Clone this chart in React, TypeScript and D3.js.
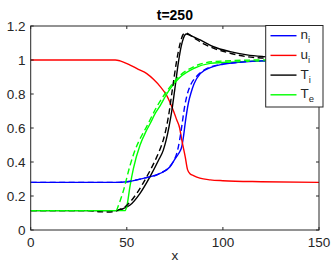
import React, { useEffect, useRef } from 'react';
import * as d3 from 'd3';

const niX = [0, 45, 50, 58.6, 67.3, 72.5, 75.2, 77, 78.6, 79.5, 80.4, 82.1, 83.5, 85, 88.2, 93.4, 100, 110, 121, 150];
const niSolid = [0.28, 0.28, 0.284, 0.304, 0.333, 0.372, 0.42, 0.45, 0.49, 0.55, 0.63, 0.75, 0.81, 0.86, 0.92, 0.955, 0.975, 0.988, 0.995, 1.0];
const niDashX = [0, 45, 50, 58.6, 67.3, 72.5, 74.5, 76, 77.5, 78.6, 80, 81.5, 83.5, 86, 90, 97, 107, 120, 150];
const niDash = [0.28, 0.28, 0.284, 0.304, 0.333, 0.375, 0.41, 0.45, 0.53, 0.61, 0.72, 0.8, 0.86, 0.9, 0.94, 0.97, 0.985, 0.995, 1.0];

const uiX = [0, 44, 46.5, 51.7, 56, 60.4, 64, 67.3, 70.8, 72.5, 74.3, 76, 77.5, 78.6, 80.4, 81.6, 83, 84.7, 88, 93.4, 100, 120, 150];
const uiSolid = [1, 1, 0.995, 0.97, 0.945, 0.92, 0.885, 0.845, 0.79, 0.75, 0.7, 0.647, 0.6, 0.53, 0.43, 0.355, 0.33, 0.32, 0.305, 0.295, 0.29, 0.284, 0.28];

const tiX = [0, 45, 48, 51.7, 56.9, 62.1, 66.5, 69, 70.5, 72, 73.4, 75, 76.9, 78.3, 79.5, 81, 83, 88.2, 95.1, 103.8, 112.5, 121, 135, 150];
const tiSolid = [0.114, 0.114, 0.125, 0.147, 0.216, 0.314, 0.41, 0.47, 0.53, 0.61, 0.7, 0.83, 0.99, 1.08, 1.13, 1.153, 1.145, 1.118, 1.078, 1.049, 1.03, 1.02, 1.012, 1.008];
const tiDashX = [0, 30, 36, 40, 44, 46, 49.1, 55.2, 60.4, 65.6, 67.3, 69, 71.7, 74, 76, 77.8, 79.3, 80.5, 85, 90, 95, 103.8, 112, 120, 150];
const tiDash = [0.114, 0.114, 0.107, 0.106, 0.11, 0.12, 0.137, 0.216, 0.314, 0.43, 0.475, 0.53, 0.67, 0.85, 1.0, 1.1, 1.15, 1.16, 1.13, 1.095, 1.07, 1.04, 1.02, 1.012, 1.005];

const teX = [0, 49, 50, 51.7, 53.4, 56.9, 60, 62.1, 65, 67.3, 70.8, 72.5, 77.8, 84.7, 93.4, 100, 120, 150];
const teSolid = [0.114, 0.114, 0.14, 0.26, 0.36, 0.5, 0.58, 0.625, 0.69, 0.73, 0.8, 0.83, 0.9, 0.95, 0.98, 0.985, 0.995, 1.0];
const teDashX = [0, 44.5, 45.5, 48.2, 51.7, 54.3, 57.5, 60.4, 65.6, 71.7, 77.8, 84.7, 95, 120, 150];
const teDash = [0.114, 0.114, 0.14, 0.23, 0.38, 0.47, 0.55, 0.61, 0.725, 0.83, 0.91, 0.96, 0.99, 1.0, 1.0];

const xTicks = [0, 50, 100, 150];
const yTicks = [0, 0.2, 0.4, 0.6, 0.8, 1, 1.2];
const legendNames = [['n', 'i'], ['u', 'i'], ['T', 'i'], ['T', 'e']];
const legendColors = ['#0000ff', '#ff0000', '#000000', '#00ff00'];

const App: React.FC = () => {
  const svgRef = useRef<SVGSVGElement>(null);

  useEffect(() => {
    if (!svgRef.current) return;
    const width = 334;
    const height = 273;
    const left = 30.7, right = 319, top = 26, bottom = 230;
    const axisColor = '#262626';
    const font = '"Liberation Sans", Arial, Helvetica, sans-serif';

    const svg = d3.select(svgRef.current);
    svg.selectAll('*').remove();
    svg.attr('width', width).attr('height', height).attr('viewBox', [0, 0, width, height]);

    const x = d3.scaleLinear().domain([0, 150]).range([left, right]);
    const y = d3.scaleLinear().domain([0, 1.2]).range([bottom, top]);

    svg.append('rect').attr('width', width).attr('height', height).attr('fill', 'white');

    // curves: solids first, then dashed on top
    const line = d3.line<[number, number]>()
      .x(d => x(d[0]))
      .y(d => y(d[1]))
      .curve(d3.curveMonotoneX);
    const zip = (xs: number[], vs: number[]) => xs.map((v, i) => [v, vs[i]] as [number, number]);

    const curves = [
      { d: zip(niX, niSolid), c: legendColors[0], dash: false },
      { d: zip(uiX, uiSolid), c: legendColors[1], dash: false },
      { d: zip(tiX, tiSolid), c: legendColors[2], dash: false },
      { d: zip(teX, teSolid), c: legendColors[3], dash: false },
      { d: zip(niDashX, niDash), c: legendColors[0], dash: true },
      { d: zip(tiDashX, tiDash), c: legendColors[2], dash: true },
      { d: zip(teDashX, teDash), c: legendColors[3], dash: true },
    ];

    svg.append('g').selectAll('path')
      .data(curves)
      .join('path')
      .attr('d', c => line(c.d))
      .attr('fill', 'none')
      .attr('stroke', c => c.c)
      .attr('stroke-width', 1.4)
      .attr('stroke-dasharray', c => (c.dash ? '6,3.5' : null));

    // axes box
    const ax = svg.append('g').attr('stroke', axisColor).attr('stroke-width', 1).attr('fill', 'none');
    ax.append('rect')
      .attr('x', left).attr('y', top)
      .attr('width', right - left).attr('height', bottom - top);
    const tl = 3;
    xTicks.forEach(t => {
      ax.append('line').attr('x1', x(t)).attr('x2', x(t)).attr('y1', bottom).attr('y2', bottom - tl);
      ax.append('line').attr('x1', x(t)).attr('x2', x(t)).attr('y1', top).attr('y2', top + tl);
    });
    yTicks.forEach(t => {
      ax.append('line').attr('x1', left).attr('x2', left + tl).attr('y1', y(t)).attr('y2', y(t));
      ax.append('line').attr('x1', right).attr('x2', right - tl).attr('y1', y(t)).attr('y2', y(t));
    });

    // tick labels
    svg.append('g').selectAll('text')
      .data(xTicks)
      .join('text')
      .attr('x', d => x(d))
      .attr('y', 246.5)
      .attr('text-anchor', 'middle')
      .attr('font-family', font)
      .attr('font-size', 13.5)
      .attr('fill', axisColor)
      .text(d => String(d));

    svg.append('g').selectAll('text')
      .data(yTicks)
      .join('text')
      .attr('x', 25.5)
      .attr('y', d => y(d) + 4.8)
      .attr('text-anchor', 'end')
      .attr('font-family', font)
      .attr('font-size', 13.5)
      .attr('fill', axisColor)
      .text(d => String(d));

    svg.append('text')
      .attr('x', (left + right) / 2)
      .attr('y', 260)
      .attr('text-anchor', 'middle')
      .attr('font-family', font)
      .attr('font-size', 13.5)
      .attr('fill', axisColor)
      .text('x');

    svg.append('text')
      .attr('x', (left + right) / 2)
      .attr('y', 20)
      .attr('text-anchor', 'middle')
      .attr('font-family', font)
      .attr('font-size', 14)
      .attr('font-weight', 'bold')
      .attr('fill', '#000')
      .text('t=250');

    // legend
    const lg = svg.append('g');
    lg.append('rect')
      .attr('x', 265.7).attr('y', 25.5)
      .attr('width', 57.3).attr('height', 81.5)
      .attr('fill', 'white')
      .attr('stroke', axisColor)
      .attr('stroke-width', 1);
    legendNames.forEach((n, i) => {
      const ly = 35.7 + i * 19.7;
      lg.append('line')
        .attr('x1', 270.5).attr('x2', 296.5)
        .attr('y1', ly).attr('y2', ly)
        .attr('stroke', legendColors[i])
        .attr('stroke-width', 1.4);
      const t = lg.append('text')
        .attr('x', 300.5)
        .attr('y', ly + 3.5)
        .attr('font-family', font)
        .attr('font-size', 13.5)
        .attr('fill', axisColor);
      t.append('tspan').text(n[0]);
      t.append('tspan').attr('font-size', 9.5).attr('dy', 4).text(n[1]);
    });
  }, []);

  return (
    <div style={{ position: 'absolute', left: 0, top: 0 }}>
      <svg ref={svgRef} style={{ display: 'block' }}></svg>
    </div>
  );
};

export default App;
